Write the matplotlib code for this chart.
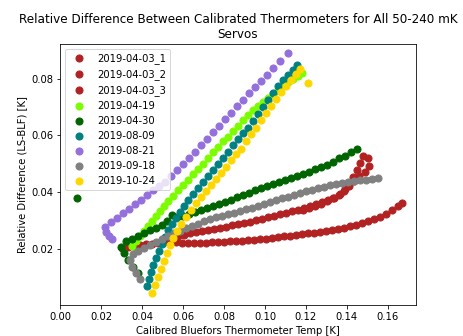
import matplotlib
matplotlib.use("Agg")
import matplotlib.pyplot as plt

# servo runs, values
labels = ["2019-04-03_1", "2019-04-03_2", "2019-04-03_3", "2019-04-19", "2019-04-30",
          "2019-08-09", "2019-08-21", "2019-09-18", "2019-10-24"]
colors = ["firebrick", "firebrick", "firebrick", "lawngreen", "darkgreen",
          "teal", "mediumpurple", "grey", "gold"]

t_0403_1 = [0.0302, 0.0332, 0.0361, 0.0390, 0.0420, 0.0449, 0.0478, 0.0507, 0.0537, 0.0566,
            0.0595, 0.0624, 0.0654, 0.0683, 0.0712, 0.0741, 0.0771, 0.0800, 0.0829, 0.0859,
            0.0888, 0.0917, 0.0946, 0.0976, 0.1005, 0.1034, 0.1063, 0.1093, 0.1122, 0.1151,
            0.1180, 0.1210, 0.1239, 0.1268, 0.1298, 0.1327, 0.1356, 0.1385, 0.1415, 0.1444,
            0.1473, 0.1502, 0.1532, 0.1561, 0.1590, 0.1620, 0.1649, 0.1668]
d_0403_1 = [0.0204, 0.0207, 0.0211, 0.0214, 0.0218, 0.0218, 0.0221, 0.0225, 0.0225, 0.0225,
            0.0221, 0.0221, 0.0221, 0.0221, 0.0221, 0.0225, 0.0225, 0.0225, 0.0228, 0.0228,
            0.0228, 0.0232, 0.0232, 0.0235, 0.0235, 0.0239, 0.0242, 0.0246, 0.0246, 0.0250,
            0.0253, 0.0257, 0.0257, 0.0260, 0.0264, 0.0267, 0.0271, 0.0274, 0.0281, 0.0285,
            0.0292, 0.0299, 0.0306, 0.0313, 0.0324, 0.0338, 0.0352, 0.0363]

t_0403_2 = [0.0546, 0.0576, 0.0605, 0.0634, 0.0663, 0.0693, 0.0722, 0.0751, 0.0780, 0.0810,
            0.0839, 0.0868, 0.0898, 0.0927, 0.0956, 0.0985, 0.1015, 0.1044, 0.1073, 0.1102,
            0.1132, 0.1161, 0.1190, 0.1220, 0.1249, 0.1278, 0.1307, 0.1337, 0.1366, 0.1390,
            0.1410, 0.1429, 0.1449, 0.1463, 0.1478]
d_0403_2 = [0.0242, 0.0246, 0.0250, 0.0257, 0.0260, 0.0264, 0.0267, 0.0271, 0.0274, 0.0278,
            0.0285, 0.0288, 0.0292, 0.0296, 0.0303, 0.0306, 0.0313, 0.0317, 0.0324, 0.0327,
            0.0335, 0.0338, 0.0345, 0.0352, 0.0359, 0.0366, 0.0373, 0.0381, 0.0395, 0.0412,
            0.0434, 0.0455, 0.0480, 0.0504, 0.0526]

t_0403_3 = [0.1502, 0.1507, 0.1488, 0.1459, 0.1434, 0.1410, 0.1385, 0.1361, 0.1332, 0.1302,
            0.1273, 0.1244, 0.1215, 0.1185]
d_0403_3 = [0.0519, 0.0494, 0.0473, 0.0458, 0.0441, 0.0423, 0.0405, 0.0391, 0.0381, 0.0370,
            0.0359, 0.0352, 0.0345, 0.0338]

t_0419 = [0.0351, 0.0371, 0.0390, 0.0410, 0.0429, 0.0449, 0.0468, 0.0488, 0.0507, 0.0527,
          0.0551, 0.0576, 0.0600, 0.0624, 0.0649, 0.0673, 0.0698, 0.0722, 0.0746, 0.0771,
          0.0795, 0.0820, 0.0844, 0.0868, 0.0893, 0.0917, 0.0941, 0.0966, 0.0990, 0.1015,
          0.1039, 0.1063, 0.1088, 0.1112, 0.1137, 0.1161, 0.1180]
d_0419 = [0.0211, 0.0228, 0.0246, 0.0264, 0.0281, 0.0299, 0.0317, 0.0335, 0.0352, 0.0370,
          0.0388, 0.0409, 0.0427, 0.0444, 0.0465, 0.0483, 0.0501, 0.0522, 0.0540, 0.0558,
          0.0579, 0.0596, 0.0614, 0.0635, 0.0653, 0.0671, 0.0688, 0.0703, 0.0717, 0.0731,
          0.0745, 0.0759, 0.0773, 0.0788, 0.0798, 0.0809, 0.0819]

t_0430 = [0.0083, 0.0380, 0.0356, 0.0332, 0.0312, 0.0298, 0.0322, 0.0351, 0.0380, 0.0410,
          0.0439, 0.0468, 0.0498, 0.0522, 0.0546, 0.0571, 0.0600, 0.0629, 0.0659, 0.0688,
          0.0717, 0.0746, 0.0776, 0.0805, 0.0834, 0.0863, 0.0893, 0.0922, 0.0951, 0.0980,
          0.1010, 0.1039, 0.1068, 0.1098, 0.1127, 0.1156, 0.1185, 0.1215, 0.1244, 0.1273,
          0.1302, 0.1332, 0.1361, 0.1390, 0.1420, 0.1449]
d_0430 = [0.0381, 0.0115, 0.0136, 0.0161, 0.0186, 0.0207, 0.0228, 0.0235, 0.0246, 0.0257,
          0.0267, 0.0274, 0.0285, 0.0299, 0.0320, 0.0313, 0.0317, 0.0324, 0.0331, 0.0338,
          0.0345, 0.0352, 0.0359, 0.0366, 0.0373, 0.0384, 0.0391, 0.0398, 0.0409, 0.0416,
          0.0423, 0.0430, 0.0437, 0.0444, 0.0451, 0.0458, 0.0465, 0.0472, 0.0483, 0.0490,
          0.0497, 0.0508, 0.0519, 0.0529, 0.0540, 0.0554]

t_0809 = [0.0424, 0.0434, 0.0444, 0.0454, 0.0468, 0.0483, 0.0498, 0.0512, 0.0527, 0.0546,
          0.0566, 0.0585, 0.0605, 0.0624, 0.0649, 0.0673, 0.0698, 0.0722, 0.0746, 0.0771,
          0.0795, 0.0820, 0.0844, 0.0868, 0.0893, 0.0917, 0.0941, 0.0966, 0.0990, 0.1015,
          0.1039, 0.1063, 0.1088, 0.1112, 0.1137, 0.1156]
d_0809 = [0.0069, 0.0094, 0.0119, 0.0143, 0.0168, 0.0193, 0.0218, 0.0242, 0.0267, 0.0288,
          0.0310, 0.0331, 0.0352, 0.0373, 0.0395, 0.0416, 0.0437, 0.0458, 0.0480, 0.0501,
          0.0522, 0.0543, 0.0565, 0.0586, 0.0607, 0.0628, 0.0650, 0.0674, 0.0699, 0.0724,
          0.0749, 0.0773, 0.0795, 0.0812, 0.0830, 0.0848]

t_0821 = [0.0254, 0.0239, 0.0224, 0.0220, 0.0249, 0.0278, 0.0307, 0.0337, 0.0366, 0.0395,
          0.0424, 0.0454, 0.0483, 0.0512, 0.0541, 0.0571, 0.0600, 0.0629, 0.0659, 0.0688,
          0.0717, 0.0746, 0.0776, 0.0805, 0.0834, 0.0863, 0.0893, 0.0922, 0.0951, 0.0980,
          0.1010, 0.1039, 0.1073, 0.1112]
d_0821 = [0.0235, 0.0246, 0.0260, 0.0278, 0.0296, 0.0310, 0.0327, 0.0342, 0.0359, 0.0373,
          0.0391, 0.0409, 0.0423, 0.0437, 0.0458, 0.0480, 0.0501, 0.0519, 0.0540, 0.0565,
          0.0586, 0.0611, 0.0632, 0.0657, 0.0678, 0.0703, 0.0724, 0.0749, 0.0770, 0.0791,
          0.0812, 0.0837, 0.0862, 0.0890]

t_0918 = [0.0390, 0.0371, 0.0351, 0.0341, 0.0356, 0.0380, 0.0410, 0.0439, 0.0468, 0.0498,
          0.0527, 0.0556, 0.0585, 0.0615, 0.0644, 0.0673, 0.0702, 0.0732, 0.0761, 0.0790,
          0.0820, 0.0849, 0.0878, 0.0907, 0.0937, 0.0966, 0.0995, 0.1024, 0.1054, 0.1083,
          0.1112, 0.1141, 0.1171, 0.1200, 0.1229, 0.1259, 0.1288, 0.1317, 0.1346, 0.1376,
          0.1405, 0.1434, 0.1463, 0.1493, 0.1522, 0.1551]
d_0918 = [0.0094, 0.0115, 0.0136, 0.0161, 0.0182, 0.0193, 0.0204, 0.0214, 0.0225, 0.0235,
          0.0246, 0.0257, 0.0264, 0.0274, 0.0281, 0.0288, 0.0299, 0.0306, 0.0313, 0.0317,
          0.0324, 0.0327, 0.0334, 0.0341, 0.0345, 0.0352, 0.0359, 0.0366, 0.0373, 0.0380,
          0.0384, 0.0391, 0.0398, 0.0405, 0.0409, 0.0416, 0.0419, 0.0426, 0.0430, 0.0433,
          0.0437, 0.0441, 0.0444, 0.0444, 0.0448, 0.0451]

t_1024 = [0.0449, 0.0463, 0.0478, 0.0493, 0.0507, 0.0522, 0.0537, 0.0551, 0.0571, 0.0590,
          0.0615, 0.0639, 0.0663, 0.0688, 0.0712, 0.0737, 0.0761, 0.0785, 0.0810, 0.0834,
          0.0859, 0.0883, 0.0907, 0.0932, 0.0956, 0.0980, 0.1005, 0.1029, 0.1054, 0.1078,
          0.1102, 0.1127, 0.1151, 0.1171, 0.1210]
d_1024 = [0.0044, 0.0073, 0.0101, 0.0129, 0.0158, 0.0186, 0.0214, 0.0239, 0.0264, 0.0288,
          0.0313, 0.0338, 0.0363, 0.0384, 0.0405, 0.0427, 0.0448, 0.0469, 0.0490, 0.0512,
          0.0533, 0.0554, 0.0579, 0.0604, 0.0628, 0.0653, 0.0678, 0.0703, 0.0727, 0.0752,
          0.0773, 0.0795, 0.0816, 0.0834, 0.0784]

temps = [t_0403_1, t_0403_2, t_0403_3, t_0419, t_0430, t_0809, t_0821, t_0918, t_1024]
diffs = [d_0403_1, d_0403_2, d_0403_3, d_0419, d_0430, d_0809, d_0821, d_0918, d_1024]

fig = plt.figure(figsize=(463 / 72, 336 / 72), dpi=72)
ax = fig.add_axes([0.1296, 0.0923, 0.7689, 0.7767])

for t, d, lab, col in zip(temps, diffs, labels, colors):
    ax.scatter(t, d, s=50, color=col, label=lab)

ax.set_xlim(0, 0.1737)
ax.set_ylim(0.0003, 0.0922)
ax.set_xlabel("Calibred Bluefors Thermometer Temp [K]")
ax.set_ylabel("Relative Difference (LS-BLF) [K]")
ax.set_title("Relative Difference Between Calibrated Thermometers for All 50-240 mK\nServos")
ax.legend(loc="upper left")

fig.savefig("out.png", dpi=72)
